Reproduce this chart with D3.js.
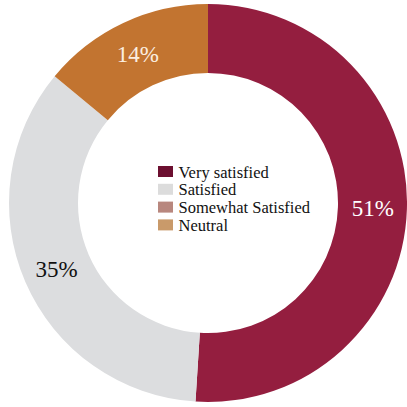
<!DOCTYPE html>
<html>
<head>
<meta charset="utf-8">
<script src="https://cdn.jsdelivr.net/npm/d3@7"></script>
<style>
  html, body { margin: 0; padding: 0; background: #fff; }
  svg { display: block; }
  svg text { font-family: "Liberation Serif", "Times New Roman", Times, "DejaVu Serif", serif; }
</style>
</head>
<body>
<svg id="chart" width="407" height="407"></svg>
<script>
// Satisfaction survey shares
const categories = ["Very satisfied", "Satisfied", "Somewhat Satisfied", "Neutral"];
const values = [51, 35, 0, 14];
const sliceColors = ["#941e3f", "#dcdddf", "#b8877e", "#c27430"];
const legendColors = ["#6c0f30", "#dcdcdc", "#b8877e", "#c99a6a"];
const labelColors = ["#ffffff", "#111111", "#ffffff", "#fbeee0"];

const width = 407, height = 407;
const cx = 208, cy = 203;
const outerR = 199, innerR = 130;

const svg = d3.select("#chart");
const g = svg.append("g").attr("transform", `translate(${cx},${cy})`);

const data = categories.map((c, i) => ({ name: c, value: values[i], i }));

const pie = d3.pie().value(d => d.value).sort(null);
const arc = d3.arc().innerRadius(innerR).outerRadius(outerR);
const labelArc = d3.arc().innerRadius(165).outerRadius(165);

const arcs = pie(data);

g.selectAll("path.slice")
  .data(arcs.filter(a => a.data.value > 0))
  .join("path")
  .attr("class", "slice")
  .attr("d", arc)
  .attr("fill", a => sliceColors[a.data.i]);

g.selectAll("text.pct")
  .data(arcs.filter(a => a.data.value > 0))
  .join("text")
  .attr("class", "pct")
  .attr("transform", a => {
    const [x, y] = labelArc.centroid(a);
    return `translate(${x},${y})`;
  })
  .attr("text-anchor", "middle")
  .attr("dy", "0.35em")
  .attr("font-size", 23)
  .attr("fill", a => labelColors[a.data.i])
  .text(a => a.data.value + "%");

// Legend in the donut hole
const legend = svg.append("g").attr("transform", "translate(158,166)");
const rowH = 17.8;
const rows = legend.selectAll("g.row")
  .data(data)
  .join("g")
  .attr("class", "row")
  .attr("transform", (d, i) => `translate(0,${i * rowH})`);

rows.append("rect")
  .attr("width", 15)
  .attr("height", 11)
  .attr("fill", d => legendColors[d.i]);

rows.append("text")
  .attr("x", 20.5)
  .attr("y", 11.5)
  .attr("font-size", 16.5)
  .attr("fill", "#111")
  .text(d => d.name);
</script>
</body>
</html>
